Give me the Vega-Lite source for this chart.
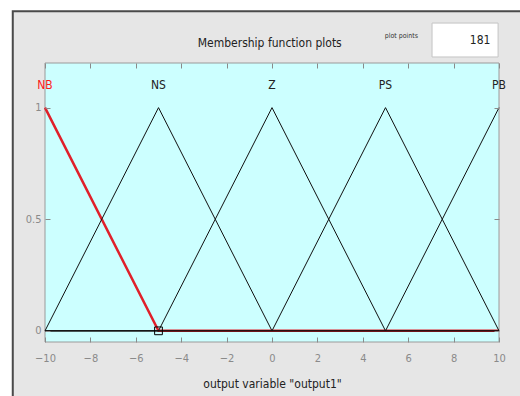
{
  "$schema": "https://vega.github.io/schema/vega-lite/v6.json",
  "width": 454,
  "height": 279,
  "autosize": {"type": "none"},
  "padding": {"left": 45, "top": 63, "right": 21, "bottom": 54},
  "background": "#ffffff",
  "config": {
    "view": {"fill": null, "stroke": null},
    "font": "DejaVu Sans Condensed, Liberation Sans Narrow, DejaVu Sans, sans-serif"
  },
  "resolve": {"axis": {"x": "independent", "y": "independent"}},
  "datasets": {
    "mfs": [
      {"mf": "NB", "x": -10, "y": 1},
      {"mf": "NB", "x": -5, "y": 0},
      {"mf": "NB", "x": 10, "y": 0},
      {"mf": "NS", "x": -10, "y": 0},
      {"mf": "NS", "x": -5, "y": 1},
      {"mf": "NS", "x": 0, "y": 0},
      {"mf": "NS", "x": 10, "y": 0},
      {"mf": "Z", "x": -10, "y": 0},
      {"mf": "Z", "x": -5, "y": 0},
      {"mf": "Z", "x": 0, "y": 1},
      {"mf": "Z", "x": 5, "y": 0},
      {"mf": "Z", "x": 10, "y": 0},
      {"mf": "PS", "x": -10, "y": 0},
      {"mf": "PS", "x": 0, "y": 0},
      {"mf": "PS", "x": 5, "y": 1},
      {"mf": "PS", "x": 10, "y": 0},
      {"mf": "PB", "x": -10, "y": 0},
      {"mf": "PB", "x": 5, "y": 0},
      {"mf": "PB", "x": 10, "y": 1}
    ],
    "labels": [
      {"mf": "NB", "peak": -10},
      {"mf": "NS", "peak": -5},
      {"mf": "Z", "peak": 0},
      {"mf": "PS", "peak": 5},
      {"mf": "PB", "peak": 10}
    ],
    "texts": [{"title": "Membership function plots", "pp": "plot points", "n": "181"}]
  },
  "layer": [
    {
      "data": {"name": "texts"},
      "mark": {"type": "rect", "fill": "#e6e6e6", "stroke": "#4a4a4a", "strokeWidth": 2},
      "encoding": {
        "x": {"datum": -11.42, "type": "quantitative", "scale": {"domain": [-10, 10], "nice": false}, "axis": null},
        "x2": {"datum": 12.5},
        "y": {"datum": 1.432, "type": "quantitative", "scale": {"domain": [-0.05, 1.2], "nice": false, "zero": false}, "axis": null},
        "y2": {"datum": -0.45}
      }
    },
    {
      "data": {"name": "texts"},
      "mark": {"type": "rect", "fill": "#ccffff", "stroke": "#9a9a9a", "strokeWidth": 1},
      "encoding": {
        "x": {"datum": -10, "type": "quantitative", "axis": null},
        "x2": {"datum": 10},
        "y": {"datum": -0.05, "type": "quantitative", "axis": null},
        "y2": {"datum": 1.2}
      }
    },
    {
      "data": {"name": "texts"},
      "mark": {"type": "rect", "fill": "#ffffff", "stroke": "#c4c4c4", "strokeWidth": 1},
      "encoding": {
        "x": {"datum": 7.05, "type": "quantitative", "axis": null},
        "x2": {"datum": 9.96},
        "y": {"datum": 1.379, "type": "quantitative", "axis": null},
        "y2": {"datum": 1.227}
      }
    },
    {
      "data": {"name": "texts"},
      "mark": {"type": "text", "align": "right", "baseline": "middle", "fontSize": 12, "color": "#222222"},
      "encoding": {
        "x": {"datum": 9.62, "type": "quantitative", "axis": null},
        "y": {"datum": 1.303, "type": "quantitative", "axis": null},
        "text": {"field": "n"}
      }
    },
    {
      "data": {"name": "texts"},
      "mark": {"type": "text", "align": "center", "baseline": "middle", "fontSize": 7, "color": "#333333"},
      "encoding": {
        "x": {"datum": 5.7, "type": "quantitative", "axis": null},
        "y": {"datum": 1.322, "type": "quantitative", "axis": null},
        "text": {"field": "pp"}
      }
    },
    {
      "data": {"name": "texts"},
      "mark": {"type": "text", "align": "center", "baseline": "middle", "fontSize": 12, "color": "#222222"},
      "encoding": {
        "x": {"datum": -0.1, "type": "quantitative", "axis": null},
        "y": {"datum": 1.29, "type": "quantitative", "axis": null},
        "text": {"field": "title"}
      }
    },
    {
      "data": {"name": "mfs"},
      "transform": [{"filter": "datum.mf === 'NB'"}],
      "mark": {"type": "line", "color": "#e0202a", "strokeWidth": 2.5},
      "encoding": {
        "x": {
          "field": "x",
          "type": "quantitative",
          "axis": {
            "orient": "top",
            "zindex": 2,
            "values": [-10, -8, -6, -4, -2, 0, 2, 4, 6, 8, 10],
            "domain": false,
            "grid": false,
            "labels": false,
            "offset": -5,
            "tickSize": 5,
            "tickColor": "#8a8a8a",
            "title": null
          }
        },
        "y": {
          "field": "y",
          "type": "quantitative",
          "axis": {
            "orient": "right",
            "zindex": 2,
            "values": [0, 0.5, 1],
            "domain": false,
            "grid": false,
            "labels": false,
            "offset": -5,
            "tickSize": 5,
            "tickColor": "#8a8a8a",
            "title": null
          }
        },
        "detail": {"field": "mf"}
      }
    },
    {
      "data": {"name": "mfs"},
      "transform": [{"filter": "datum.mf !== 'NB'"}],
      "mark": {"type": "line", "color": "#111111", "strokeWidth": 1},
      "encoding": {
        "x": {
          "field": "x",
          "type": "quantitative",
          "axis": {
            "orient": "bottom",
            "zindex": 2,
            "values": [-10, -8, -6, -4, -2, 0, 2, 4, 6, 8, 10],
            "domain": false,
            "grid": false,
            "offset": -5,
            "tickSize": 5,
            "tickColor": "#8a8a8a",
            "labelColor": "#8a8a8a",
            "labelFontSize": 11,
            "labelPadding": 10,
            "labelFlush": false,
            "title": "output variable \"output1\"",
            "titleColor": "#222222",
            "titleFontSize": 12,
            "titleFontWeight": "normal",
            "titlePadding": 15
          }
        },
        "y": {
          "field": "y",
          "type": "quantitative",
          "axis": {
            "orient": "left",
            "zindex": 2,
            "values": [0, 0.5, 1],
            "labelExpr": "'' + datum.value",
            "domain": false,
            "grid": false,
            "offset": -5,
            "tickSize": 5,
            "tickColor": "#8a8a8a",
            "labelColor": "#8a8a8a",
            "labelFontSize": 11,
            "labelPadding": 4,
            "title": null
          }
        },
        "detail": {"field": "mf"},
        "order": {"field": "x", "type": "quantitative"}
      }
    },
    {
      "data": {"values": [{"x": -5, "y": 0}]},
      "mark": {"type": "point", "shape": "square", "size": 60, "filled": false, "color": "#000000", "strokeWidth": 1, "opacity": 1},
      "encoding": {
        "x": {"field": "x", "type": "quantitative", "axis": null},
        "y": {"field": "y", "type": "quantitative", "axis": null}
      }
    },
    {
      "data": {"name": "labels"},
      "mark": {"type": "text", "baseline": "middle", "align": "center", "fontSize": 12},
      "encoding": {
        "x": {"field": "peak", "type": "quantitative", "axis": null},
        "y": {"datum": 1.1, "type": "quantitative", "axis": null},
        "text": {"field": "mf"},
        "color": {
          "condition": {"test": "datum.mf === 'NB'", "value": "#ff1a1a"},
          "value": "#222222"
        }
      }
    }
  ]
}
